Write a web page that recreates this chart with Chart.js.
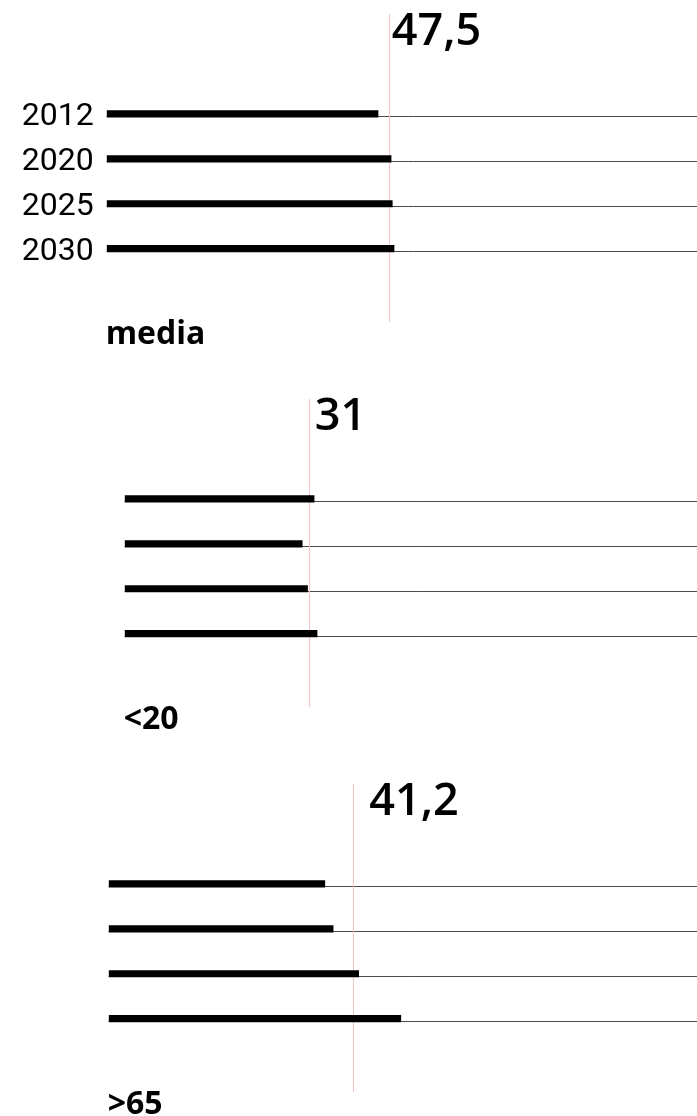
<!DOCTYPE html>
<html>
<head>
<meta charset="utf-8">
<script src="https://cdn.jsdelivr.net/npm/chart.js@4/dist/chart.umd.min.js"></script>
<style>
    html, body { margin: 0; padding: 0; background: #fff; overflow: hidden; }
    body { width: 697px; height: 1116px; position: relative; }
    canvas { position: absolute; left: 0; }
</style>
</head>
<body>
<canvas id="panel0" width="720" height="360" style="top:0px"></canvas>
<canvas id="panel1" width="720" height="360" style="top:385px"></canvas>
<canvas id="panel2" width="720" height="360" style="top:770px"></canvas>
<script>
// values
const years = ['2012', '2020', '2025', '2030'];
const mediaValues = [45.7, 47.9, 48.1, 48.4];
const under20Values = [31.9, 29.9, 30.8, 32.4];
const over65Values = [36.4, 37.8, 42.1, 49.2];
const refValues = [47.5, 31, 41.2];
const panelTitles = ['media', '<20', '>65'];

// layout of each panel (left edge of the 0 value, label nudge)
const panels = [
    { id: 'panel0', values: mediaValues, left: 106.7, labelDx: 3, showYears: true },
    { id: 'panel1', values: under20Values, left: 124.7, labelDx: 6, showYears: false },
    { id: 'panel2', values: over65Values, left: 108.7, labelDx: 16, showYears: false }
];

const CANVAS_W = 720;
const AXIS_W = 593.7;   // 0..100

function fmt(v) {
    return String(v).replace('.', ',');
}

const refLine = {
    id: 'refLine',
    beforeDatasetsDraw(chart, args, opts) {
        const ctx = chart.ctx;
        const area = chart.chartArea;
        // thin rules under each bar, out to the edge
        ctx.save();
        ctx.strokeStyle = '#4a4a4a';
        ctx.lineWidth = 1;
        chart.getDatasetMeta(0).data.forEach(bar => {
            const y = Math.round(bar.y + bar.height / 2) - 0.5;
            ctx.beginPath();
            ctx.moveTo(bar.base, y);
            ctx.lineTo(area.right + 20, y);
            ctx.stroke();
        });
        // pink reference line
        const x = Math.round(chart.scales.x.getPixelForValue(opts.value)) + 0.5;
        ctx.strokeStyle = '#f2c4c4';
        ctx.beginPath();
        ctx.moveTo(x, 14);
        ctx.lineTo(x, 322);
        ctx.stroke();
        ctx.restore();
    },
    afterDatasetsDraw(chart, args, opts) {
        const ctx = chart.ctx;
        const x = chart.scales.x.getPixelForValue(opts.value);
        ctx.save();
        ctx.fillStyle = '#000';
        ctx.textBaseline = 'alphabetic';
        ctx.textAlign = 'left';
        ctx.font = '600 45px "Open Sans"';
        ctx.fillText(fmt(opts.value), x + opts.labelDx, 45);
        ctx.font = '700 32px "Open Sans"';
        ctx.fillText(opts.title, chart.chartArea.left - 1, 344);
        ctx.restore();
    }
};

panels.forEach((p, i) => {
    const ctx = document.getElementById(p.id).getContext('2d');
    new Chart(ctx, {
        type: 'bar',
        data: {
            labels: years,
            datasets: [{
                data: p.values,
                backgroundColor: '#000',
                borderWidth: 0,
                barThickness: 6.5
            }]
        },
        options: {
            indexAxis: 'y',
            responsive: false,
            animation: false,
            layout: {
                padding: {
                    left: 0,
                    right: CANVAS_W - p.left - AXIS_W,
                    top: 91.5,
                    bottom: 88.9
                }
            },
            scales: {
                x: {
                    min: 0,
                    max: 100,
                    display: false
                },
                y: {
                    grid: { display: false, drawTicks: false },
                    border: { display: false },
                    ticks: {
                        display: p.showYears,
                        color: '#000',
                        padding: 13,
                        labelOffset: 3,
                        font: { family: 'Roboto', size: 32 }
                    },
                    afterFit(scale) {
                        scale.width = p.left;
                    }
                }
            },
            plugins: {
                legend: { display: false },
                tooltip: { enabled: false },
                refLine: { value: refValues[i], labelDx: p.labelDx, title: panelTitles[i] }
            }
        },
        plugins: [refLine]
    });
});
</script>
</body>
</html>
